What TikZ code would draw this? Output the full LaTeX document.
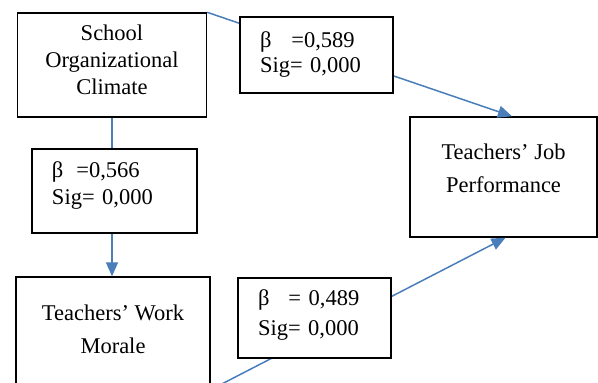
\documentclass[tikz,border=0pt]{standalone}
\usepackage{fontspec}
\setmainfont{Liberation Serif}
\usepackage{tikz}
\usetikzlibrary{arrows.meta}
\definecolor{lineablu}{HTML}{4A7EBB}

\begin{document}
\begin{tikzpicture}[x=1pt,y=-1pt]
\tikzstyle{freccia} = [-{Triangle[length=14pt,width=12pt]}, draw=lineablu, line width=1.5pt]
\tikzstyle{scatola} = [draw, line width=1.4pt, fill=white, align=center, font=\fontsize{22.5}{27}\selectfont]
\tikzstyle{coeff} = [draw, line width=1.4pt, fill=white, align=left, inner xsep=20pt, font=\fontsize{22.5}{27}\selectfont]
\useasboundingbox (0,0) rectangle (598,383);
\clip (0,0) rectangle (598,383);
\node[scatola, minimum width=189pt, minimum height=104pt, text depth=11pt] (v1) at (112,65) {School\\Organizational\\Climate};
\node[scatola, minimum width=194pt, minimum height=120pt, text depth=16pt, font=\fontsize{22.5}{33}\selectfont] (v2) at (113,337) {Teachers’ Work\\Morale};
\node[scatola, minimum width=187pt, minimum height=120pt, text depth=17pt, font=\fontsize{22.5}{33}\selectfont] (v3) at (503.5,177) {Teachers’ Job\\Performance};
\draw[freccia] (v1.north east) -- ([xshift=8.5pt]v3.north);
\draw[freccia] (v1.south) -- (v1.south |- v2.north);
\draw[freccia] ([yshift=8pt]v2.south east) -- ([xshift=2pt]v3.south);
\node[coeff, text width=113pt, minimum height=76pt, text depth=31pt] (v4) at (316.5,55) {β\hspace{20pt}=0,589\\[-2pt]Sig= 0,000};
\node[coeff, text width=125pt, minimum height=84pt, text depth=42pt] (v5) at (114.5,191) {β\hspace{13pt}=0,566\\Sig= 0,000};
\node[coeff, text width=113pt, minimum height=80pt, text depth=40pt] (v6) at (314.5,318) {β\hspace{19pt}= 0,489\\[3pt]Sig= 0,000};
\end{tikzpicture}
\end{document}
